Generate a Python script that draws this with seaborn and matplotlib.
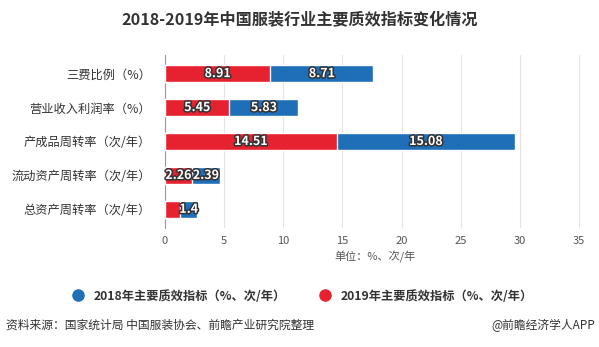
import matplotlib
matplotlib.use("Agg")
import matplotlib.pyplot as plt
import matplotlib.patheffects as pe
import seaborn as sns
import pandas as pd
import numpy as np
from matplotlib.lines import Line2D

categories = ["三费比例（%）", "营业收入利润率（%）", "产成品周转率（次/年）", "流动资产周转率（次/年）", "总资产周转率（次/年）"]
values_2019 = [8.91, 5.45, 14.51, 2.26, 1.3]
values_2018 = [8.71, 5.83, 15.08, 2.39, 1.4]
labels_2019 = ["8.91", "5.45", "14.51", "2.26", ""]
labels_2018 = ["8.71", "5.83", "15.08", "2.39", "1.4"]
xticks = [0, 5, 10, 15, 20, 25, 30, 35]

RED = "#E62230"
BLUE = "#1E6FB7"

sns.set_theme(style="white")
plt.rcParams['font.family'] = ['Noto Sans CJK SC', 'DejaVu Sans']

df = pd.DataFrame({"cat": categories, "v2019": values_2019, "v2018": values_2018})
df["total"] = df["v2019"] + df["v2018"]

fig = plt.figure(figsize=(5.99, 3.47), dpi=100)
ax = fig.add_axes([165/599, 1-228/347, 420/599, 173/347])

sns.barplot(data=df, y="cat", x="total", color=BLUE, orient="h", width=0.5, ax=ax, saturation=1, zorder=3)
sns.barplot(data=df, y="cat", x="v2019", color=RED, orient="h", width=0.5, ax=ax, saturation=1, zorder=4)

stroke = [pe.withStroke(linewidth=2.2, foreground="#333333")]
for i, (r, b) in enumerate(zip(values_2019, values_2018)):
    if labels_2019[i]:
        ax.text(r/2, i, labels_2019[i], ha="center", va="center", color="white",
                fontsize=9, fontweight="bold", path_effects=stroke, zorder=6)
    ax.text(r + b/2, i, labels_2018[i], ha="center", va="center", color="white",
            fontsize=9, fontweight="bold", path_effects=stroke, zorder=6)

ax.set_xlim(0, 35.5)
ax.set_ylim(4.55, -0.55)
ax.set_xticks(xticks)
ax.set_xticklabels([str(t) for t in xticks], fontsize=8, color="#555555")
ax.tick_params(axis="y", labelsize=8.8, colors="#333333", length=4, color="#999999", width=0.8, pad=6)
ax.tick_params(axis="x", length=0, pad=6)
ax.grid(axis="x", color="#e3e3e3", linewidth=0.8, zorder=0)
ax.set_axisbelow(True)
for s in ["top", "right", "bottom"]:
    ax.spines[s].set_visible(False)
ax.spines["left"].set_color("#999999")
ax.spines["left"].set_linewidth(0.8)
ax.set_xlabel("单位：%、次/年", fontsize=8, color="#555555", labelpad=3)
ax.set_ylabel("")

fig.text(0.5, 1-20/347, "2018-2019年中国服装行业主要质效指标变化情况", ha="center", va="center",
         fontsize=11.6, fontweight="bold", color="#333333")

handles = [Line2D([0], [0], marker="o", linestyle="", markersize=8, markerfacecolor=BLUE, markeredgecolor=BLUE),
           Line2D([0], [0], marker="o", linestyle="", markersize=8, markerfacecolor=RED, markeredgecolor=RED)]
leg = fig.legend(handles, ["2018年主要质效指标（%、次/年）", "2019年主要质效指标（%、次/年）"],
                 loc="center", bbox_to_anchor=(0.5, 1-296/347), ncol=2, frameon=False,
                 fontsize=8.8, handletextpad=0.3, columnspacing=2.2)
for t in leg.get_texts():
    t.set_fontweight("bold")
    t.set_color("#333333")

fig.text(6/599, 1-325/347, "资料来源：国家统计局 中国服装协会、前瞻产业研究院整理", ha="left", va="center",
         fontsize=8.5, color="#333333")
fig.text(595/599, 1-325/347, "@前瞻经济学人APP", ha="right", va="center", fontsize=8.5, color="#333333")

fig.savefig("out.png", dpi=100)
